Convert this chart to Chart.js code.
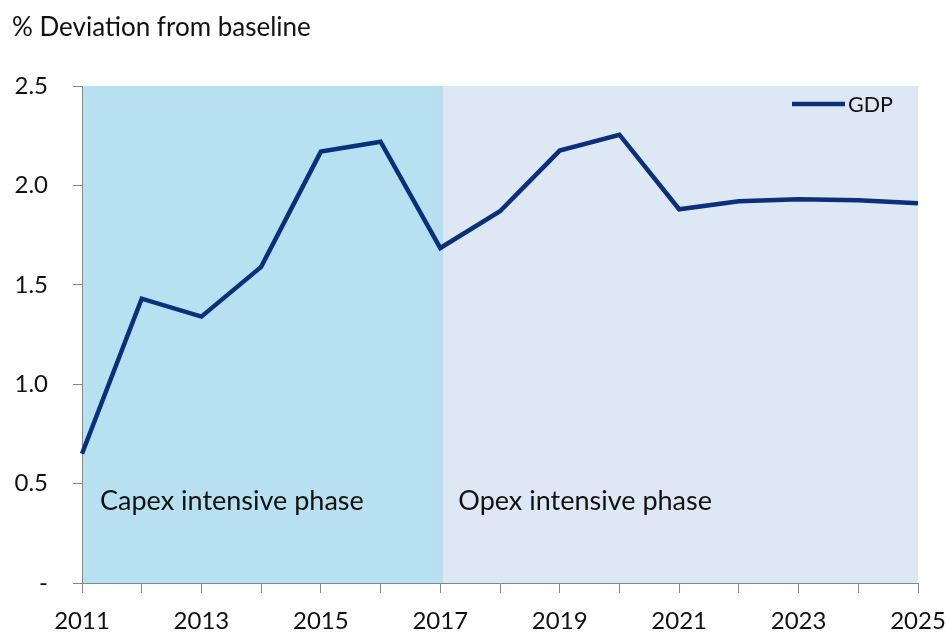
<!DOCTYPE html>
<html><head><meta charset="utf-8">
<script src="https://cdn.jsdelivr.net/npm/chart.js@4.4.1/dist/chart.umd.min.js"></script>
<style>html,body{margin:0;padding:0;background:#fff}#wrap{width:947px;height:633px}</style>
</head><body><div id="wrap"><canvas id="c" width="947" height="633"></canvas></div>
<script>
const years = ['2011','2012','2013','2014','2015','2016','2017','2018','2019','2020','2021','2022','2023','2024','2025'];
const gdp = [0.65, 1.43, 1.34, 1.59, 2.17, 2.22, 1.685, 1.87, 2.175, 2.255, 1.88, 1.92, 1.93, 1.925, 1.91];
const seriesName = 'GDP';
const yAxisTitle = '% Deviation from baseline';
const phaseNames = ['Capex intensive phase', 'Opex intensive phase'];
const phaseStart = ['2011', '2017'];
const phaseEnd = ['2017', '2025'];

const LINE = '#0A2F7B';
const FONT = 'Lato';
const phaseColors = ['#B7E1F0', '#DEE8F4'];

const decor = {
  id: 'decor',
  beforeDraw(chart) {
    const {ctx, chartArea: a, scales: {x}} = chart;
    ctx.save();
    const x0 = x.getPixelForValue(years.indexOf(phaseStart[0]));
    const xb = x.getPixelForValue(years.indexOf(phaseEnd[0])) + 3;
    const x1 = x.getPixelForValue(years.indexOf(phaseEnd[1]));
    ctx.fillStyle = phaseColors[0];
    ctx.fillRect(x0, a.top, xb - x0, a.bottom - a.top);
    ctx.fillStyle = '#BADDF0';
    ctx.fillRect(xb - 10, a.top, 10, a.bottom - a.top);
    ctx.fillStyle = phaseColors[1];
    ctx.fillRect(xb, a.top, x1 - xb, a.bottom - a.top);
    // axis title
    ctx.fillStyle = '#111';
    ctx.font = '26px ' + FONT;
    ctx.textAlign = 'left';
    ctx.textBaseline = 'middle';
    ctx.fillText(yAxisTitle, 12, 28);
    ctx.restore();
  },
  afterDraw(chart) {
    const {ctx, chartArea: a, scales: {x}} = chart;
    ctx.save();
    ctx.fillStyle = '#111';
    ctx.font = '27px ' + FONT;
    ctx.textAlign = 'left';
    ctx.textBaseline = 'middle';
    const x0 = x.getPixelForValue(years.indexOf(phaseStart[0]));
    const xb = x.getPixelForValue(years.indexOf(phaseStart[1])) + 3;
    ctx.fillText(phaseNames[0], x0 + 18, a.bottom - 82);
    ctx.fillText(phaseNames[1], xb + 15, a.bottom - 82);
    // legend
    const ly = a.top + 18;
    ctx.strokeStyle = LINE;
    ctx.lineWidth = 4.5;
    ctx.beginPath();
    ctx.moveTo(a.right - 126, ly);
    ctx.lineTo(a.right - 73, ly);
    ctx.stroke();
    ctx.font = '21.5px ' + FONT;
    ctx.fillText(chart.data.datasets[0].label, a.right - 70, ly + 1);
    ctx.restore();
  }
};

const axisGrey = '#868686';
new Chart(document.getElementById('c'), {
  type: 'line',
  data: {
    labels: years,
    datasets: [{
      label: seriesName,
      data: gdp,
      borderColor: LINE,
      backgroundColor: LINE,
      borderWidth: 4.5,
      pointRadius: 0,
      tension: 0,
      fill: false
    }]
  },
  options: {
    responsive: false,
    animation: false,
    devicePixelRatio: 1,
    layout: {padding: {top: 86, left: 12, right: 29, bottom: 0}},
    plugins: {legend: {display: false}, tooltip: {enabled: false}, title: {display: false}},
    scales: {
      x: {
        offset: false,
        ticks: {
          autoSkip: false, maxRotation: 0, minRotation: 0, padding: 14, color: '#111',
          font: {family: FONT, size: 24},
          callback: (v, i) => (i % 2 === 0 ? years[i] : '')
        },
        grid: {drawOnChartArea: false, drawTicks: true, tickLength: 10, color: axisGrey, offset: false},
        border: {display: true, color: axisGrey, width: 1},
        afterFit(s) { s.height = 50; s.paddingLeft = 0; s.paddingRight = 0; }
      },
      y: {
        min: 0, max: 2.5,
        ticks: {
          stepSize: 0.5, padding: 25, color: '#111',
          font: {family: FONT, size: 24},
          callback: v => (v === 0 ? '-' : v.toFixed(1))
        },
        grid: {drawOnChartArea: false, drawTicks: true, tickLength: 9, color: axisGrey},
        border: {display: true, color: axisGrey, width: 1},
        afterFit(s) { s.width = 70; s.paddingTop = 0; s.paddingBottom = 0; }
      }
    }
  },
  plugins: [decor]
});
</script>
</body></html>
